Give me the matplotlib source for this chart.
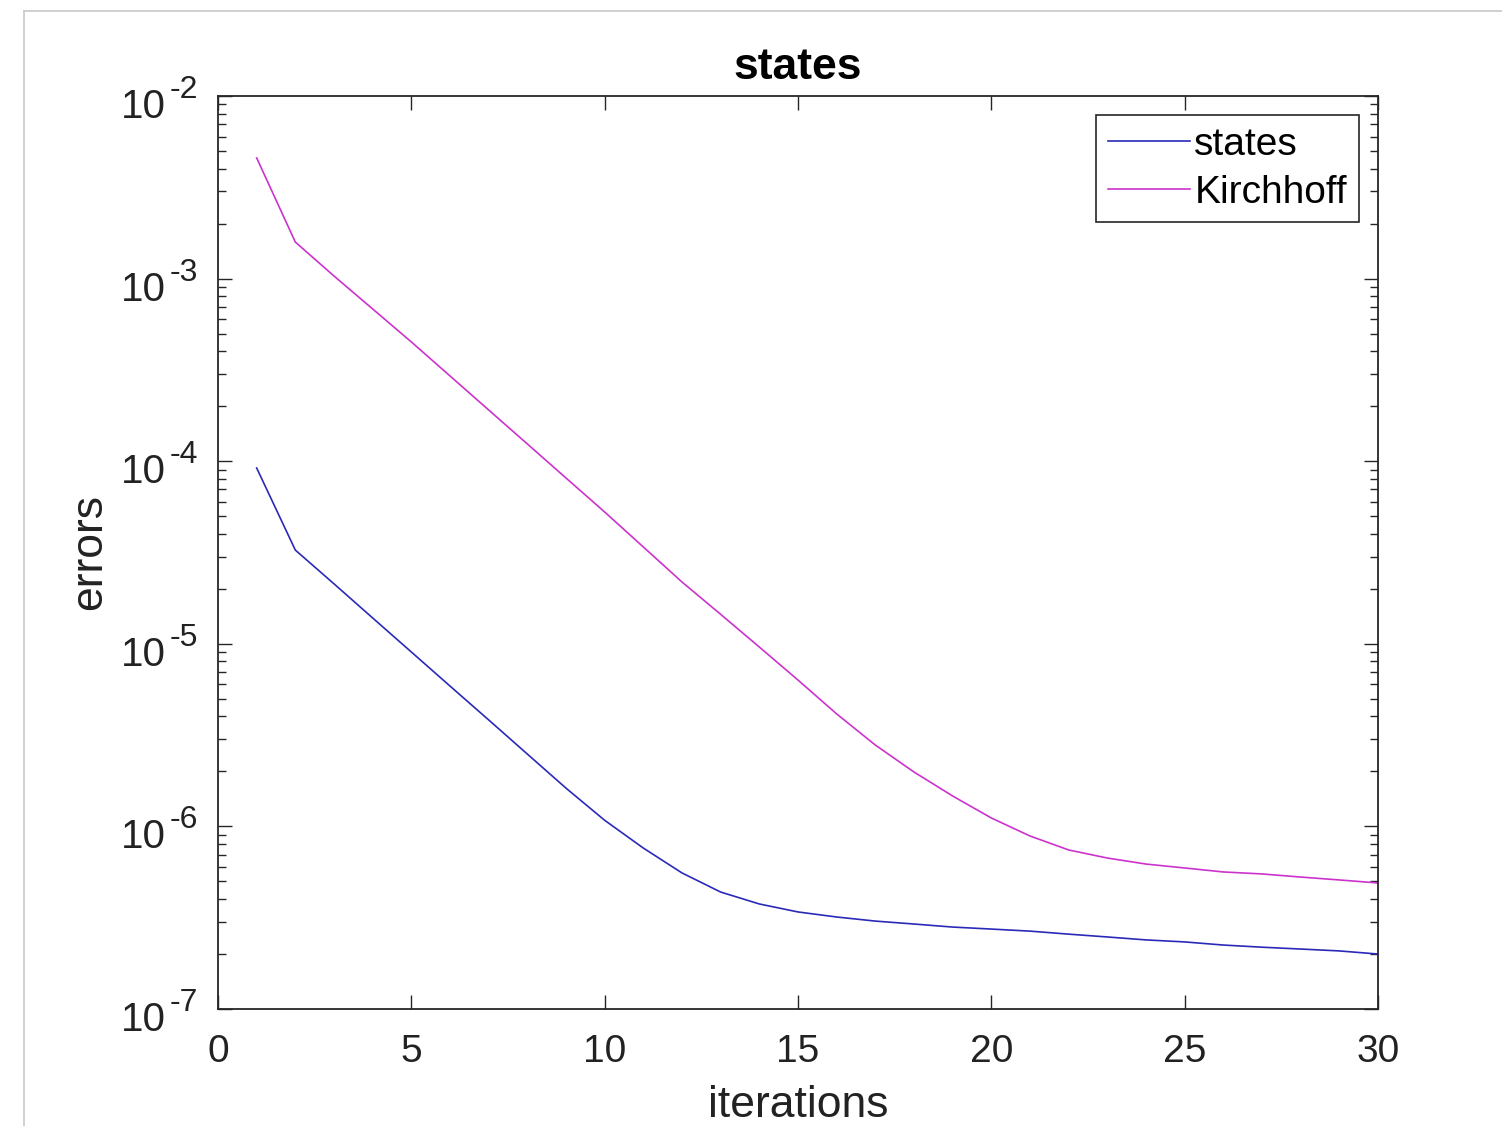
import numpy as np
import matplotlib
matplotlib.use('Agg')
import matplotlib.pyplot as plt
from matplotlib.lines import Line2D
from matplotlib.ticker import FixedLocator, NullFormatter, NullLocator

plt.rcParams['font.family'] = ['Liberation Sans', 'DejaVu Sans']

# Data
iterations = list(range(1, 31))
states_err = [9.18e-5, 3.26e-5, 2.13e-5, 1.385e-5, 9.02e-6, 5.87e-6, 3.83e-6, 2.49e-6,
              1.62e-6, 1.08e-6, 7.61e-7, 5.56e-7, 4.37e-7, 3.76e-7, 3.40e-7, 3.19e-7,
              3.03e-7, 2.92e-7, 2.81e-7, 2.74e-7, 2.67e-7, 2.57e-7, 2.48e-7, 2.39e-7,
              2.33e-7, 2.24e-7, 2.18e-7, 2.13e-7, 2.08e-7, 2.00e-7]
kirchhoff_err = [4.58e-3, 1.585e-3, 1.033e-3, 6.82e-4, 4.50e-4, 2.93e-4, 1.908e-4, 1.243e-4,
                 8.09e-5, 5.27e-5, 3.39e-5, 2.18e-5, 1.45e-5, 9.6e-6, 6.33e-6, 4.13e-6,
                 2.79e-6, 1.985e-6, 1.467e-6, 1.112e-6, 8.86e-7, 7.43e-7, 6.71e-7, 6.22e-7,
                 5.92e-7, 5.63e-7, 5.49e-7, 5.28e-7, 5.09e-7, 4.90e-7]
xticks = [0, 5, 10, 15, 20, 25, 30]
yexps = [-7, -6, -5, -4, -3, -2]

axis_col = '#262626'
text_col = '#222222'

fig = plt.figure(figsize=(15.02, 11.26), dpi=100)
ax = fig.add_axes([218 / 1502, 1 - 1009 / 1126, 1160 / 1502, 913 / 1126])

ax.plot(iterations, states_err, color='#2a2ab8', lw=1.2, label='states')
ax.plot(iterations, kirchhoff_err, color='#cc33cc', lw=1.2, label='Kirchhoff')

ax.set_yscale('log')
ax.set_xlim(0, 30)
ax.set_ylim(1e-7, 1e-2)

ax.xaxis.set_major_locator(FixedLocator(xticks))
ax.xaxis.set_minor_locator(NullLocator())
ax.yaxis.set_major_locator(FixedLocator([10.0 ** e for e in yexps]))
minors = [m * 10.0 ** e for e in yexps[:-1] for m in range(2, 10)]
ax.yaxis.set_minor_locator(FixedLocator(minors))
ax.yaxis.set_major_formatter(NullFormatter())
ax.yaxis.set_minor_formatter(NullFormatter())

ax.tick_params(which='both', direction='in', top=True, right=True, colors=axis_col,
               labelcolor=text_col, width=1.0)
ax.tick_params(which='major', length=10, labelsize=28)
ax.tick_params(which='minor', length=6)
ax.tick_params(axis='x', pad=18)

# MATLAB style 10^-n labels: base and raised exponent with a plain hyphen
for e in yexps:
    ax.annotate('10', xy=(0, 10.0 ** e), xycoords=('axes fraction', 'data'),
                xytext=(-52, -22), textcoords='offset pixels', ha='right', va='baseline',
                fontsize=29, color=text_col)
    ax.annotate('-%d' % -e, xy=(0, 10.0 ** e), xycoords=('axes fraction', 'data'),
                xytext=(-48, -2), textcoords='offset pixels', ha='left', va='baseline',
                fontsize=23, color=text_col)

for s in ax.spines.values():
    s.set_color(axis_col)
    s.set_linewidth(1.3)

ax.set_title('states', fontsize=32, fontweight='bold', pad=12)
ax.set_xlabel('iterations', fontsize=32, color=text_col, labelpad=11)
ax.set_ylabel('errors', fontsize=32, color=text_col, labelpad=74)

leg = ax.legend(loc='upper right', fontsize=28, frameon=True, fancybox=False,
                edgecolor=axis_col, framealpha=1, handlelength=2.1, handletextpad=0.12,
                borderpad=0.3, labelspacing=0.3, borderaxespad=0.5)
leg.get_frame().set_linewidth(1.2)

# light window border from the screenshot
fig.add_artist(Line2D([24 / 1502, 1], [1 - 11 / 1126, 1 - 11 / 1126], color='#c8c8c8', lw=1.2))
fig.add_artist(Line2D([24 / 1502, 24 / 1502], [0, 1 - 11 / 1126], color='#c8c8c8', lw=1.2))

fig.savefig('out.png', dpi=100)
